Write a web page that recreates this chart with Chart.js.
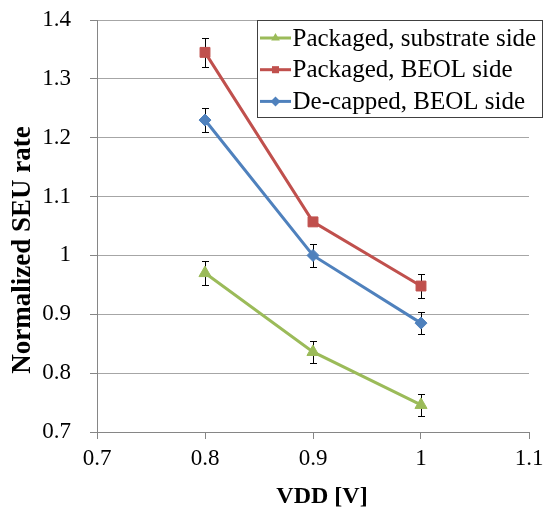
<!DOCTYPE html>
<html>
<head>
<meta charset="utf-8">
<script src="https://cdn.jsdelivr.net/npm/chart.js@4.4.1/dist/chart.umd.min.js"></script>
<style>
  html, body { margin: 0; padding: 0; background: #fff; }
  #wrap { width: 545px; height: 510px; }
</style>
</head>
<body>
<div id="wrap"><canvas id="seuChart" width="545" height="510"></canvas></div>
<script>
var vdd = [0.8, 0.9, 1.0];

var substrateRate = [0.97, 0.836, 0.746];
var substrateErr = [0.02, 0.019, 0.018];

var beolRate = [1.345, 1.057, 0.948];
var beolErr = [0.025, 0.005, 0.021];

var decapRate = [1.23, 1.0, 0.885];
var decapErr = [0.021, 0.02, 0.019];

var xTicks = [0.7, 0.8, 0.9, 1, 1.1];
var yTicks = [0.7, 0.8, 0.9, 1, 1.1, 1.2, 1.3, 1.4];

var xTitle = 'VDD [V]';
var yTitle = 'Normalized SEU rate';

var serif = '"Liberation Serif", serif';

function points(ys, errs) {
    return vdd.map(function (x, i) { return { x: x, y: ys[i], err: errs[i] }; });
}

var dataFirst = {
    label: "Packaged, substrate side",
    data: points(substrateRate, substrateErr),
    borderColor: '#9BBB59',
    backgroundColor: '#9BBB59',
    pointStyle: 'triangle',
    pointRadius: 7,
    borderWidth: 3,
    pointBorderWidth: 1
};
var dataSecond = {
    label: "Packaged, BEOL side",
    data: points(beolRate, beolErr),
    borderColor: '#C0504D',
    backgroundColor: '#C0504D',
    pointStyle: 'rect',
    pointRadius: 7,
    borderWidth: 3,
    pointBorderWidth: 1
};
var dataThird = {
    label: "De-capped, BEOL side",
    data: points(decapRate, decapErr),
    borderColor: '#4F81BD',
    backgroundColor: '#4F81BD',
    pointStyle: 'rectRot',
    pointRadius: 6,
    borderWidth: 3,
    pointBorderWidth: 1
};

// error bars, drawn under the markers
var errorBars = {
    id: 'errorBars',
    beforeDatasetsDraw: function (chart) {
        var ctx = chart.ctx;
        var xs = chart.scales.x, ys = chart.scales.y;
        ctx.save();
        ctx.strokeStyle = '#000';
        ctx.lineWidth = 1;
        chart.data.datasets.forEach(function (ds) {
            ds.data.forEach(function (p) {
                var px = Math.round(xs.getPixelForValue(p.x)) + 0.5;
                var top = Math.round(ys.getPixelForValue(p.y + p.err)) + 0.5;
                var bot = Math.round(ys.getPixelForValue(p.y - p.err)) + 0.5;
                ctx.beginPath();
                ctx.moveTo(px, top); ctx.lineTo(px, bot);
                ctx.moveTo(px - 3.5, top); ctx.lineTo(px + 3.5, top);
                ctx.moveTo(px - 3.5, bot); ctx.lineTo(px + 3.5, bot);
                ctx.stroke();
            });
        });
        ctx.restore();
    }
};

// axis titles, placed like the original (a bit off the plot centre)
var axisTitles = {
    id: 'axisTitles',
    afterDraw: function (chart) {
        var ctx = chart.ctx, area = chart.chartArea;
        ctx.save();
        ctx.fillStyle = '#000';
        ctx.textAlign = 'center';
        ctx.textBaseline = 'middle';
        ctx.font = 'bold 24px ' + serif;
        ctx.fillText(xTitle, (area.left + area.right) / 2 + 9, 497);
        ctx.translate(23, (area.top + area.bottom) / 2 + 24);
        ctx.rotate(-Math.PI / 2);
        ctx.font = 'bold 27px ' + serif;
        ctx.fillText(yTitle, 0, 0);
        ctx.restore();
    }
};

// boxed legend in the upper right corner
var boxLegend = {
    id: 'boxLegend',
    afterDraw: function (chart) {
        var ctx = chart.ctx;
        var left = 257, top = 20, w = 285, h = 97;
        ctx.save();
        ctx.fillStyle = '#fff';
        ctx.fillRect(left, top, w, h);
        ctx.strokeStyle = '#404040';
        ctx.lineWidth = 1;
        ctx.strokeRect(left + 0.5, top + 0.5, w, h);
        ctx.font = '25px ' + serif;
        ctx.textBaseline = 'middle';
        chart.data.datasets.forEach(function (ds, i) {
            var y = top + 18 + i * 31.7;
            ctx.strokeStyle = ds.borderColor;
            ctx.lineWidth = 3;
            ctx.beginPath();
            ctx.moveTo(left + 3, y); ctx.lineTo(left + 34, y);
            ctx.stroke();
            ctx.fillStyle = ds.backgroundColor;
            Chart.helpers.drawPoint(ctx, { pointStyle: ds.pointStyle, radius: 5, borderWidth: 0 }, left + 18.5, y);
            ctx.fillStyle = '#000';
            ctx.fillText(ds.label, left + 35.5, y + 1);
        });
        ctx.restore();
    }
};

var chartOptions = {
    responsive: false,
    animation: false,
    layout: { padding: { top: 20, right: 16, bottom: 0, left: 0 } },
    plugins: {
        legend: { display: false },
        tooltip: { enabled: false }
    },
    scales: {
        x: {
            type: 'linear',
            min: 0.7,
            max: 1.1,
            afterBuildTicks: function (scale) {
                scale.ticks = xTicks.map(function (v) { return { value: v }; });
            },
            afterFit: function (scale) {
                scale.height = 78;
                scale.paddingLeft = 0;
                scale.paddingRight = 0;
            },
            grid: { drawOnChartArea: false, drawTicks: true, tickLength: 7, color: '#868686' },
            border: { display: true, color: '#868686', width: 1 },
            ticks: {
                color: '#000',
                font: { family: serif, size: 23 },
                padding: 6,
                maxRotation: 0,
                callback: function (v) { return String(+v.toFixed(1)); }
            }
        },
        y: {
            type: 'linear',
            min: 0.7,
            max: 1.4,
            afterBuildTicks: function (scale) {
                scale.ticks = yTicks.map(function (v) { return { value: v }; });
            },
            afterFit: function (scale) {
                scale.width = 97;
                scale.paddingTop = 0;
                scale.paddingBottom = 0;
            },
            grid: { color: '#A6A6A6', tickLength: 7, tickColor: '#868686' },
            border: { display: true, color: '#868686', width: 1 },
            ticks: {
                color: '#000',
                font: { family: serif, size: 23 },
                padding: 19,
                callback: function (v) { return String(+v.toFixed(1)); }
            }
        }
    }
};

function makeChart() {
    return new Chart(document.getElementById('seuChart'), {
        type: 'line',
        data: { datasets: [dataFirst, dataSecond, dataThird] },
        options: chartOptions,
        plugins: [errorBars, axisTitles, boxLegend]
    });
}

Promise.all([
    document.fonts.load('22px "Liberation Serif"'),
    document.fonts.load('bold 22px "Liberation Serif"')
]).then(makeChart, makeChart);
</script>
</body>
</html>
